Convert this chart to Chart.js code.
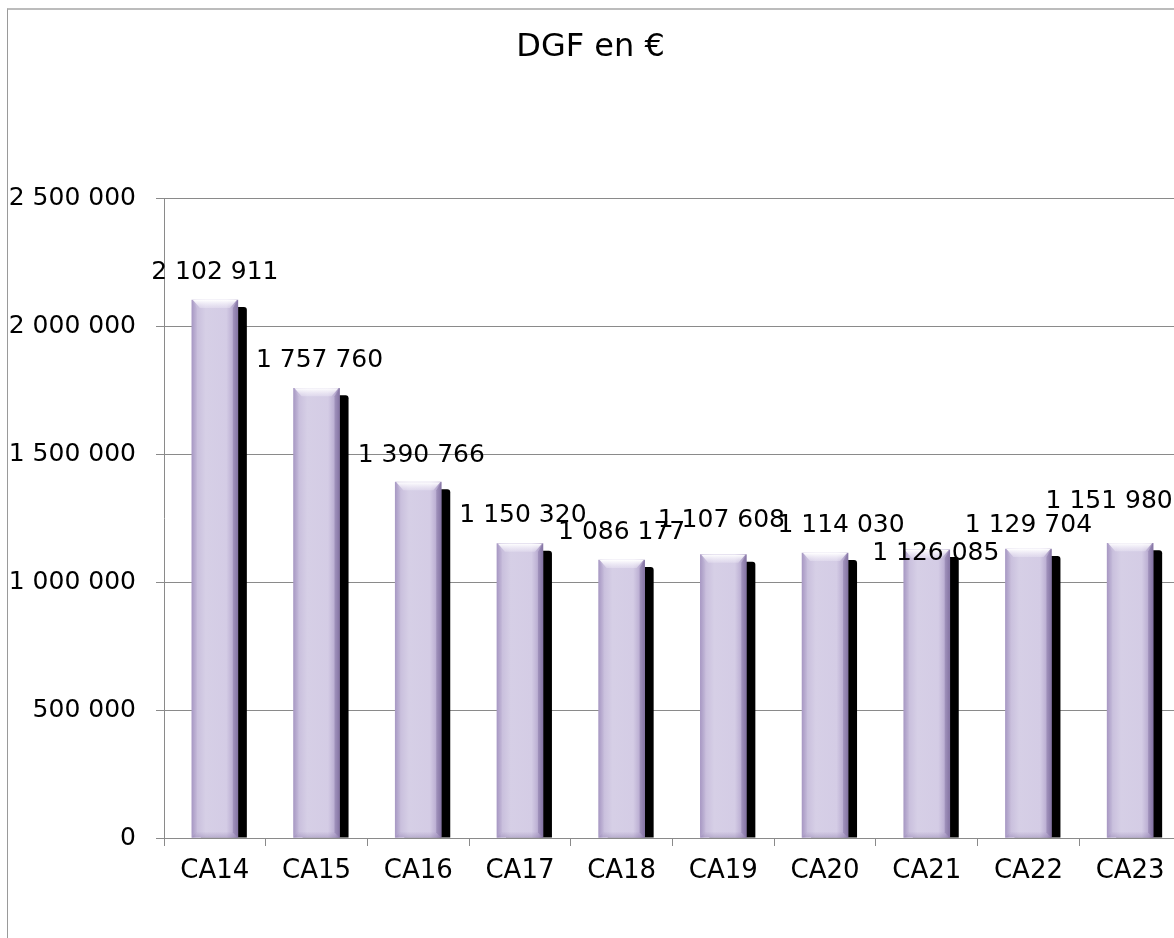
<!DOCTYPE html>
<html lang="fr">
<head>
<meta charset="utf-8">
<title>DGF en €</title>
<script src="https://cdn.jsdelivr.net/npm/chart.js@4/dist/chart.umd.min.js"></script>
<style>
  html, body { margin: 0; padding: 0; background: #fff; overflow: hidden; }
  #wrap { position: relative; width: 1174px; height: 938px; overflow: hidden; }
  #frame { position: absolute; left: 7px; top: 8px; width: 1300px; height: 1100px;
           border-left: 1.5px solid #9a9a9a; border-top: 2px solid #bcbcbc; box-sizing: border-box; }
  #c { position: absolute; left: 0; top: 0; }
</style>
</head>
<body>
<div id="wrap">
  <div id="frame"></div>
  <canvas id="c" width="1200" height="938"></canvas>
</div>
<script>
// Dotation globale de fonctionnement par compte administratif
const categories = ['CA14', 'CA15', 'CA16', 'CA17', 'CA18', 'CA19', 'CA20', 'CA21', 'CA22', 'CA23'];
const dgfValues = [2102911, 1757760, 1390766, 1150320, 1086177, 1107608, 1114030, 1126085, 1129704, 1151980];
const yTicks = [0, 500000, 1000000, 1500000, 2000000, 2500000];

// Hand-placed nudges of the value labels (dx, dy in px from the default spot above each bar)
const labelNudgeX = [0, 3, 3, 3, 0, -2, 16, 9, 0, -21];
const labelNudgeY = [1, 0, 1, 0, 0, -6, 1, 32, 5, -14];

const FONT = '"DejaVu Sans", "Noto Sans", sans-serif';
const BAR_W = 46;

function fmt(v) {
  return String(Math.round(v)).replace(/\B(?=(\d{3})+(?!\d))/g, ' ');
}

// Black drop shadow behind each bar, bevel highlights on top of it, and value labels
const barDecor = {
  id: 'barDecor',
  beforeDatasetsDraw(chart) {
    const ctx = chart.ctx;
    const meta = chart.getDatasetMeta(0);
    ctx.save();
    ctx.fillStyle = '#000';
    meta.data.forEach(bar => {
      const left = bar.x - bar.width / 2 + 9;
      const top = bar.y + 7;
      ctx.beginPath();
      ctx.roundRect(left, top, bar.width, bar.base - top, [3, 3, 0, 0]);
      ctx.fill();
    });
    ctx.restore();
  },
  afterDatasetsDraw(chart) {
    const ctx = chart.ctx;
    const meta = chart.getDatasetMeta(0);
    const yScale = chart.scales.y;
    ctx.save();
    meta.data.forEach((bar, i) => {
      const l = bar.x - bar.width / 2, r = bar.x + bar.width / 2;
      const t = bar.y, b = bar.base, s = 8;
      // top bevel
      let g = ctx.createLinearGradient(0, t, 0, t + s);
      g.addColorStop(0, 'rgba(255,255,255,1)');
      g.addColorStop(1, 'rgba(240,236,248,0.35)');
      ctx.fillStyle = g;
      ctx.beginPath();
      ctx.moveTo(l + 1, t); ctx.lineTo(r - 1, t); ctx.lineTo(r - s, t + s); ctx.lineTo(l + s, t + s);
      ctx.closePath(); ctx.fill();
      // left bevel
      ctx.fillStyle = 'rgba(150,130,185,0.12)';
      ctx.beginPath();
      ctx.moveTo(l, t); ctx.lineTo(l + 5, t + s); ctx.lineTo(l + 5, b - 5); ctx.lineTo(l, b);
      ctx.closePath(); ctx.fill();
      // right bevel
      ctx.fillStyle = 'rgba(95,75,130,0.28)';
      ctx.beginPath();
      ctx.moveTo(r, t); ctx.lineTo(r - 5, t + s); ctx.lineTo(r - 5, b - 5); ctx.lineTo(r, b);
      ctx.closePath(); ctx.fill();
      // bottom bevel
      g = ctx.createLinearGradient(0, b - 6, 0, b);
      g.addColorStop(0, 'rgba(120,100,155,0)');
      g.addColorStop(1, 'rgba(120,100,155,0.30)');
      ctx.fillStyle = g;
      ctx.beginPath();
      ctx.moveTo(l, b); ctx.lineTo(l + 5, b - 6); ctx.lineTo(r - 5, b - 6); ctx.lineTo(r, b);
      ctx.closePath(); ctx.fill();

      // value label
      const v = dgfValues[i];
      ctx.fillStyle = '#000';
      ctx.font = '25px ' + FONT;
      ctx.textAlign = 'center';
      ctx.textBaseline = 'middle';
      ctx.fillText(fmt(v), bar.x + labelNudgeX[i], yScale.getPixelForValue(v) - 28 + labelNudgeY[i]);
    });
    ctx.restore();
  }
};

const ctx = document.getElementById('c').getContext('2d');

new Chart(ctx, {
  type: 'bar',
  data: {
    labels: categories,
    datasets: [{
      label: 'DGF en €',
      data: dgfValues,
      barThickness: BAR_W,
      borderWidth: 0,
      backgroundColor(c) {
        const chart = c.chart;
        const xs = chart.scales && chart.scales.x;
        if (!xs || xs.width === undefined) return '#d4cce6';
        const cx = xs.getPixelForValue(c.dataIndex);
        const g = chart.ctx.createLinearGradient(cx - BAR_W / 2, 0, cx + BAR_W / 2, 0);
        g.addColorStop(0, '#ab9cc6');
        g.addColorStop(0.1, '#c8bedc');
        g.addColorStop(0.3, '#d6cfe6');
        g.addColorStop(0.75, '#d4cce5');
        g.addColorStop(0.9, '#b9acd1');
        g.addColorStop(1, '#9484b1');
        return g;
      }
    }]
  },
  options: {
    responsive: false,
    animation: false,
    devicePixelRatio: 1,
    layout: { padding: { left: 0, right: 19, top: 0, bottom: 0 } },
    plugins: {
      legend: { display: false },
      tooltip: { enabled: false },
      title: {
        display: true,
        text: 'DGF en €',
        color: '#000',
        font: { family: FONT, size: 32, weight: 'normal', lineHeight: 1.2 },
        padding: { top: 28, bottom: 132 }
      }
    },
    scales: {
      x: {
        offset: true,
        grid: { display: true, drawOnChartArea: false, offset: true, tickLength: 8, color: '#8a8a8a', lineWidth: 1 },
        border: { display: true, color: '#8a8a8a', width: 1 },
        ticks: { color: '#000', font: { family: FONT, size: 26 }, padding: 10, maxRotation: 0, autoSkip: false },
        afterFit(scale) { scale.height = 100; }
      },
      y: {
        min: yTicks[0],
        max: yTicks[yTicks.length - 1],
        afterBuildTicks(scale) { scale.ticks = yTicks.map(v => ({ value: v })); },
        grid: { color: '#8a8a8a', lineWidth: 1, tickLength: 8 },
        border: { display: true, color: '#8a8a8a', width: 1 },
        ticks: { color: '#000', font: { family: FONT, size: 25 }, padding: 20, callback: v => fmt(v) },
        afterFit(scale) { scale.width = 164; }
      }
    }
  },
  plugins: [barDecor]
});
</script>
</body>
</html>
